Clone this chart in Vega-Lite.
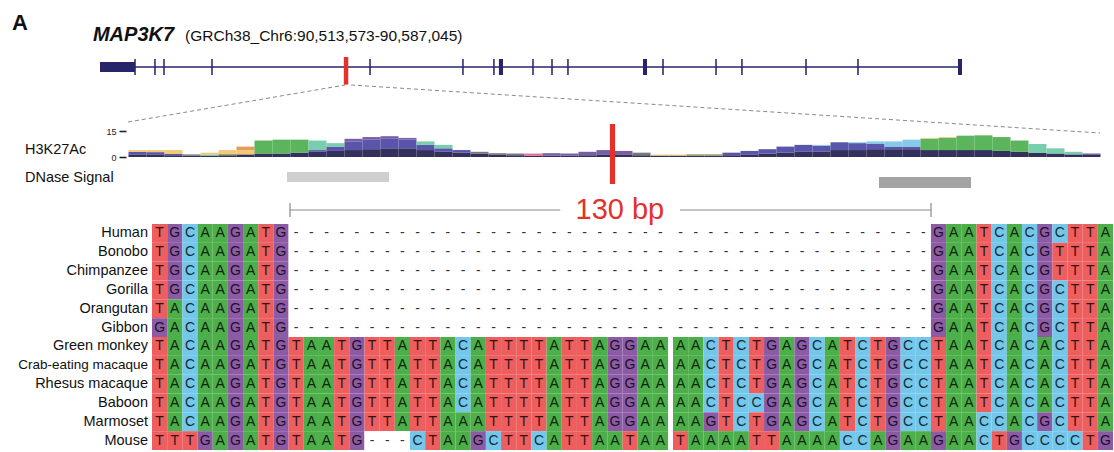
{
"$schema":"https://vega.github.io/schema/vega-lite/v6.json",
"width":1114,"height":452,"padding":0,"autosize":{"type":"none"},"background":"white",
"config":{"view":{"stroke":null},"font":"Liberation Sans","text":{"font":"Liberation Sans"}},
"datasets":{
"exons":[{"start":2.92,"end":3.05},{"start":4.62,"end":4.75},{"start":5.39,"end":5.52},{"start":9.48,"end":9.61},{"start":22.95,"end":23.08},{"start":30.87,"end":31.0},{"start":33.51,"end":33.64},{"start":34.0,"end":34.35},{"start":36.84,"end":36.97},{"start":38.46,"end":38.59},{"start":39.82,"end":39.95},{"start":46.28,"end":46.62},{"start":47.92,"end":48.05},{"start":52.44,"end":52.57},{"start":54.65,"end":54.78},{"start":60.11,"end":60.24},{"start":64.54,"end":64.67},{"start":73.13,"end":73.47}],
"h3k":[
{"start":0,"end":450,"c":"L01","v":1.5},{"start":0,"end":450,"c":"L02","v":1.5},{"start":0,"end":450,"c":"L10","v":1},
{"start":450,"end":900,"c":"L01","v":1.5},{"start":450,"end":900,"c":"L02","v":1.3},{"start":450,"end":900,"c":"L10","v":1.2},
{"start":900,"end":1350,"c":"L01","v":1},{"start":900,"end":1350,"c":"L02","v":0.8},{"start":900,"end":1350,"c":"L10","v":2.2},
{"start":1350,"end":1800,"c":"L01","v":0.8},{"start":1350,"end":1800,"c":"L04","v":0.7},
{"start":1800,"end":2250,"c":"L01","v":0.8},{"start":1800,"end":2250,"c":"L08","v":0.7},{"start":1800,"end":2250,"c":"L10","v":1},
{"start":2250,"end":2700,"c":"L01","v":1},{"start":2250,"end":2700,"c":"L06","v":1},{"start":2250,"end":2700,"c":"L10","v":2},
{"start":2700,"end":3150,"c":"L01","v":1.5},{"start":2700,"end":3150,"c":"L10","v":2.5},{"start":2700,"end":3150,"c":"L11","v":2},
{"start":3150,"end":3600,"c":"L01","v":2},{"start":3150,"end":3600,"c":"L09","v":7.5},
{"start":3600,"end":4050,"c":"L01","v":2},{"start":3600,"end":4050,"c":"L09","v":8},
{"start":4050,"end":4500,"c":"L01","v":2.5},{"start":4050,"end":4500,"c":"L09","v":7.5},
{"start":4500,"end":4950,"c":"L01","v":3},{"start":4500,"end":4950,"c":"L02","v":1},{"start":4500,"end":4950,"c":"L08","v":5.5},
{"start":4950,"end":5400,"c":"L01","v":3.5},{"start":4950,"end":5400,"c":"L02","v":2.5},{"start":4950,"end":5400,"c":"L08","v":2},
{"start":5400,"end":5850,"c":"L01","v":4},{"start":5400,"end":5850,"c":"L02","v":5},{"start":5400,"end":5850,"c":"L03","v":1.5},
{"start":5850,"end":6300,"c":"L01","v":4.5},{"start":5850,"end":6300,"c":"L02","v":5.5},{"start":5850,"end":6300,"c":"L03","v":1.5},
{"start":6300,"end":6750,"c":"L01","v":5},{"start":6300,"end":6750,"c":"L02","v":5.5},{"start":6300,"end":6750,"c":"L03","v":1.5},
{"start":6750,"end":7200,"c":"L01","v":5},{"start":6750,"end":7200,"c":"L02","v":5},{"start":6750,"end":7200,"c":"L03","v":1},
{"start":7200,"end":7650,"c":"L01","v":4},{"start":7200,"end":7650,"c":"L02","v":3},{"start":7200,"end":7650,"c":"L08","v":2},
{"start":7650,"end":8100,"c":"L01","v":3},{"start":7650,"end":8100,"c":"L02","v":2},{"start":7650,"end":8100,"c":"L08","v":2},
{"start":8100,"end":8550,"c":"L01","v":2.5},{"start":8100,"end":8550,"c":"L02","v":1.5},
{"start":8550,"end":9000,"c":"L01","v":2},{"start":8550,"end":9000,"c":"L04","v":1},
{"start":9000,"end":9450,"c":"L01","v":1.2},{"start":9000,"end":9450,"c":"L04","v":1},
{"start":9450,"end":9900,"c":"L01","v":1},{"start":9450,"end":9900,"c":"L04","v":1},
{"start":9900,"end":10350,"c":"L01","v":0.8},{"start":9900,"end":10350,"c":"L05","v":1.2},
{"start":10350,"end":10800,"c":"L01","v":0.8},{"start":10350,"end":10800,"c":"L03","v":1.4},
{"start":10800,"end":11250,"c":"L01","v":0.8},{"start":10800,"end":11250,"c":"L03","v":1.2},
{"start":11250,"end":11700,"c":"L01","v":1},{"start":11250,"end":11700,"c":"L03","v":2},
{"start":11700,"end":12150,"c":"L01","v":1.5},{"start":11700,"end":12150,"c":"L03","v":2.5},
{"start":12150,"end":12600,"c":"L01","v":1.5},{"start":12150,"end":12600,"c":"L03","v":2},
{"start":12600,"end":13050,"c":"L01","v":1},{"start":12600,"end":13050,"c":"L04","v":1.5},
{"start":13050,"end":13500,"c":"L01","v":0.8},{"start":13050,"end":13500,"c":"L10","v":0.6},
{"start":13500,"end":13950,"c":"L01","v":0.8},{"start":13500,"end":13950,"c":"L10","v":0.6},
{"start":13950,"end":14400,"c":"L01","v":0.8},{"start":13950,"end":14400,"c":"L06","v":0.8},
{"start":14400,"end":14850,"c":"L01","v":0.8},{"start":14400,"end":14850,"c":"L06","v":0.8},
{"start":14850,"end":15300,"c":"L01","v":1},{"start":14850,"end":15300,"c":"L02","v":1.5},
{"start":15300,"end":15750,"c":"L01","v":1.5},{"start":15300,"end":15750,"c":"L02","v":2},
{"start":15750,"end":16200,"c":"L01","v":2},{"start":15750,"end":16200,"c":"L02","v":2.5},
{"start":16200,"end":16650,"c":"L01","v":2.5},{"start":16200,"end":16650,"c":"L02","v":3.5},
{"start":16650,"end":17100,"c":"L01","v":3},{"start":16650,"end":17100,"c":"L02","v":4},
{"start":17100,"end":17550,"c":"L01","v":3},{"start":17100,"end":17550,"c":"L02","v":3.5},{"start":17100,"end":17550,"c":"L07","v":0.5},
{"start":17550,"end":18000,"c":"L01","v":4},{"start":17550,"end":18000,"c":"L02","v":4.5},
{"start":18000,"end":18450,"c":"L01","v":4},{"start":18000,"end":18450,"c":"L02","v":4},{"start":18000,"end":18450,"c":"L07","v":0.5},
{"start":18450,"end":18900,"c":"L01","v":4.5},{"start":18450,"end":18900,"c":"L02","v":3},{"start":18450,"end":18900,"c":"L07","v":1.5},
{"start":18900,"end":19350,"c":"L01","v":4.5},{"start":18900,"end":19350,"c":"L02","v":1.5},{"start":18900,"end":19350,"c":"L07","v":3},
{"start":19350,"end":19800,"c":"L01","v":4.5},{"start":19350,"end":19800,"c":"L02","v":1.5},{"start":19350,"end":19800,"c":"L07","v":4},
{"start":19800,"end":20250,"c":"L01","v":4},{"start":19800,"end":20250,"c":"L09","v":6.5},{"start":19800,"end":20250,"c":"L10","v":0.5},
{"start":20250,"end":20700,"c":"L01","v":4},{"start":20250,"end":20700,"c":"L09","v":7},{"start":20250,"end":20700,"c":"L10","v":0.5},
{"start":20700,"end":21150,"c":"L01","v":4},{"start":20700,"end":21150,"c":"L09","v":8.3},
{"start":21150,"end":21600,"c":"L01","v":4},{"start":21150,"end":21600,"c":"L09","v":8.5},
{"start":21600,"end":22050,"c":"L01","v":3.5},{"start":21600,"end":22050,"c":"L09","v":8},
{"start":22050,"end":22500,"c":"L01","v":3},{"start":22050,"end":22500,"c":"L09","v":6.5},
{"start":22500,"end":22950,"c":"L01","v":2.5},{"start":22500,"end":22950,"c":"L08","v":5},
{"start":22950,"end":23400,"c":"L01","v":2},{"start":22950,"end":23400,"c":"L08","v":3},
{"start":23400,"end":23850,"c":"L01","v":1.5},{"start":23400,"end":23850,"c":"L08","v":1.5},
{"start":23850,"end":24300,"c":"L01","v":1.5},{"start":23850,"end":24300,"c":"L02","v":0.5}
],
"aln":[
{"s":"Human","i":0,"b":"T"},{"s":"Human","i":1,"b":"G"},{"s":"Human","i":2,"b":"C"},{"s":"Human","i":3,"b":"A"},{"s":"Human","i":4,"b":"A"},{"s":"Human","i":5,"b":"G"},{"s":"Human","i":6,"b":"A"},{"s":"Human","i":7,"b":"T"},{"s":"Human","i":8,"b":"G"},
{"s":"Human","i":9,"b":"-"},{"s":"Human","i":10,"b":"-"},{"s":"Human","i":11,"b":"-"},{"s":"Human","i":12,"b":"-"},{"s":"Human","i":13,"b":"-"},{"s":"Human","i":14,"b":"-"},{"s":"Human","i":15,"b":"-"},{"s":"Human","i":16,"b":"-"},{"s":"Human","i":17,"b":"-"},{"s":"Human","i":18,"b":"-"},{"s":"Human","i":19,"b":"-"},{"s":"Human","i":20,"b":"-"},{"s":"Human","i":21,"b":"-"},{"s":"Human","i":22,"b":"-"},{"s":"Human","i":23,"b":"-"},{"s":"Human","i":24,"b":"-"},{"s":"Human","i":25,"b":"-"},{"s":"Human","i":26,"b":"-"},{"s":"Human","i":27,"b":"-"},{"s":"Human","i":28,"b":"-"},{"s":"Human","i":29,"b":"-"},{"s":"Human","i":30,"b":"-"},{"s":"Human","i":31,"b":"-"},{"s":"Human","i":32,"b":"-"},{"s":"Human","i":33,"b":"-"},{"s":"Human","i":34,"b":"-"},{"s":"Human","i":35,"b":"-"},{"s":"Human","i":36,"b":"-"},{"s":"Human","i":37,"b":"-"},{"s":"Human","i":38,"b":"-"},{"s":"Human","i":39,"b":"-"},{"s":"Human","i":40,"b":"-"},{"s":"Human","i":41,"b":"-"},{"s":"Human","i":42,"b":"-"},{"s":"Human","i":43,"b":"-"},{"s":"Human","i":44,"b":"-"},{"s":"Human","i":45,"b":"-"},{"s":"Human","i":46,"b":"-"},{"s":"Human","i":47,"b":"-"},{"s":"Human","i":48,"b":"-"},{"s":"Human","i":49,"b":"-"},{"s":"Human","i":50,"b":"-"},
{"s":"Human","i":51,"b":"G"},{"s":"Human","i":52,"b":"A"},{"s":"Human","i":53,"b":"A"},{"s":"Human","i":54,"b":"T"},{"s":"Human","i":55,"b":"C"},{"s":"Human","i":56,"b":"A"},{"s":"Human","i":57,"b":"C"},{"s":"Human","i":58,"b":"G"},{"s":"Human","i":59,"b":"C"},{"s":"Human","i":60,"b":"T"},{"s":"Human","i":61,"b":"T"},{"s":"Human","i":62,"b":"A"},
{"s":"Bonobo","i":0,"b":"T"},{"s":"Bonobo","i":1,"b":"G"},{"s":"Bonobo","i":2,"b":"C"},{"s":"Bonobo","i":3,"b":"A"},{"s":"Bonobo","i":4,"b":"A"},{"s":"Bonobo","i":5,"b":"G"},{"s":"Bonobo","i":6,"b":"A"},{"s":"Bonobo","i":7,"b":"T"},{"s":"Bonobo","i":8,"b":"G"},
{"s":"Bonobo","i":9,"b":"-"},{"s":"Bonobo","i":10,"b":"-"},{"s":"Bonobo","i":11,"b":"-"},{"s":"Bonobo","i":12,"b":"-"},{"s":"Bonobo","i":13,"b":"-"},{"s":"Bonobo","i":14,"b":"-"},{"s":"Bonobo","i":15,"b":"-"},{"s":"Bonobo","i":16,"b":"-"},{"s":"Bonobo","i":17,"b":"-"},{"s":"Bonobo","i":18,"b":"-"},{"s":"Bonobo","i":19,"b":"-"},{"s":"Bonobo","i":20,"b":"-"},{"s":"Bonobo","i":21,"b":"-"},{"s":"Bonobo","i":22,"b":"-"},{"s":"Bonobo","i":23,"b":"-"},{"s":"Bonobo","i":24,"b":"-"},{"s":"Bonobo","i":25,"b":"-"},{"s":"Bonobo","i":26,"b":"-"},{"s":"Bonobo","i":27,"b":"-"},{"s":"Bonobo","i":28,"b":"-"},{"s":"Bonobo","i":29,"b":"-"},{"s":"Bonobo","i":30,"b":"-"},{"s":"Bonobo","i":31,"b":"-"},{"s":"Bonobo","i":32,"b":"-"},{"s":"Bonobo","i":33,"b":"-"},{"s":"Bonobo","i":34,"b":"-"},{"s":"Bonobo","i":35,"b":"-"},{"s":"Bonobo","i":36,"b":"-"},{"s":"Bonobo","i":37,"b":"-"},{"s":"Bonobo","i":38,"b":"-"},{"s":"Bonobo","i":39,"b":"-"},{"s":"Bonobo","i":40,"b":"-"},{"s":"Bonobo","i":41,"b":"-"},{"s":"Bonobo","i":42,"b":"-"},{"s":"Bonobo","i":43,"b":"-"},{"s":"Bonobo","i":44,"b":"-"},{"s":"Bonobo","i":45,"b":"-"},{"s":"Bonobo","i":46,"b":"-"},{"s":"Bonobo","i":47,"b":"-"},{"s":"Bonobo","i":48,"b":"-"},{"s":"Bonobo","i":49,"b":"-"},{"s":"Bonobo","i":50,"b":"-"},
{"s":"Bonobo","i":51,"b":"G"},{"s":"Bonobo","i":52,"b":"A"},{"s":"Bonobo","i":53,"b":"A"},{"s":"Bonobo","i":54,"b":"T"},{"s":"Bonobo","i":55,"b":"C"},{"s":"Bonobo","i":56,"b":"A"},{"s":"Bonobo","i":57,"b":"C"},{"s":"Bonobo","i":58,"b":"G"},{"s":"Bonobo","i":59,"b":"T"},{"s":"Bonobo","i":60,"b":"T"},{"s":"Bonobo","i":61,"b":"T"},{"s":"Bonobo","i":62,"b":"A"},
{"s":"Chimpanzee","i":0,"b":"T"},{"s":"Chimpanzee","i":1,"b":"G"},{"s":"Chimpanzee","i":2,"b":"C"},{"s":"Chimpanzee","i":3,"b":"A"},{"s":"Chimpanzee","i":4,"b":"A"},{"s":"Chimpanzee","i":5,"b":"G"},{"s":"Chimpanzee","i":6,"b":"A"},{"s":"Chimpanzee","i":7,"b":"T"},{"s":"Chimpanzee","i":8,"b":"G"},
{"s":"Chimpanzee","i":9,"b":"-"},{"s":"Chimpanzee","i":10,"b":"-"},{"s":"Chimpanzee","i":11,"b":"-"},{"s":"Chimpanzee","i":12,"b":"-"},{"s":"Chimpanzee","i":13,"b":"-"},{"s":"Chimpanzee","i":14,"b":"-"},{"s":"Chimpanzee","i":15,"b":"-"},{"s":"Chimpanzee","i":16,"b":"-"},{"s":"Chimpanzee","i":17,"b":"-"},{"s":"Chimpanzee","i":18,"b":"-"},{"s":"Chimpanzee","i":19,"b":"-"},{"s":"Chimpanzee","i":20,"b":"-"},{"s":"Chimpanzee","i":21,"b":"-"},{"s":"Chimpanzee","i":22,"b":"-"},{"s":"Chimpanzee","i":23,"b":"-"},{"s":"Chimpanzee","i":24,"b":"-"},{"s":"Chimpanzee","i":25,"b":"-"},{"s":"Chimpanzee","i":26,"b":"-"},{"s":"Chimpanzee","i":27,"b":"-"},{"s":"Chimpanzee","i":28,"b":"-"},{"s":"Chimpanzee","i":29,"b":"-"},{"s":"Chimpanzee","i":30,"b":"-"},{"s":"Chimpanzee","i":31,"b":"-"},{"s":"Chimpanzee","i":32,"b":"-"},{"s":"Chimpanzee","i":33,"b":"-"},{"s":"Chimpanzee","i":34,"b":"-"},{"s":"Chimpanzee","i":35,"b":"-"},{"s":"Chimpanzee","i":36,"b":"-"},{"s":"Chimpanzee","i":37,"b":"-"},{"s":"Chimpanzee","i":38,"b":"-"},{"s":"Chimpanzee","i":39,"b":"-"},{"s":"Chimpanzee","i":40,"b":"-"},{"s":"Chimpanzee","i":41,"b":"-"},{"s":"Chimpanzee","i":42,"b":"-"},{"s":"Chimpanzee","i":43,"b":"-"},{"s":"Chimpanzee","i":44,"b":"-"},{"s":"Chimpanzee","i":45,"b":"-"},{"s":"Chimpanzee","i":46,"b":"-"},{"s":"Chimpanzee","i":47,"b":"-"},{"s":"Chimpanzee","i":48,"b":"-"},{"s":"Chimpanzee","i":49,"b":"-"},{"s":"Chimpanzee","i":50,"b":"-"},
{"s":"Chimpanzee","i":51,"b":"G"},{"s":"Chimpanzee","i":52,"b":"A"},{"s":"Chimpanzee","i":53,"b":"A"},{"s":"Chimpanzee","i":54,"b":"T"},{"s":"Chimpanzee","i":55,"b":"C"},{"s":"Chimpanzee","i":56,"b":"A"},{"s":"Chimpanzee","i":57,"b":"C"},{"s":"Chimpanzee","i":58,"b":"G"},{"s":"Chimpanzee","i":59,"b":"T"},{"s":"Chimpanzee","i":60,"b":"T"},{"s":"Chimpanzee","i":61,"b":"T"},{"s":"Chimpanzee","i":62,"b":"A"},
{"s":"Gorilla","i":0,"b":"T"},{"s":"Gorilla","i":1,"b":"G"},{"s":"Gorilla","i":2,"b":"C"},{"s":"Gorilla","i":3,"b":"A"},{"s":"Gorilla","i":4,"b":"A"},{"s":"Gorilla","i":5,"b":"G"},{"s":"Gorilla","i":6,"b":"A"},{"s":"Gorilla","i":7,"b":"T"},{"s":"Gorilla","i":8,"b":"G"},
{"s":"Gorilla","i":9,"b":"-"},{"s":"Gorilla","i":10,"b":"-"},{"s":"Gorilla","i":11,"b":"-"},{"s":"Gorilla","i":12,"b":"-"},{"s":"Gorilla","i":13,"b":"-"},{"s":"Gorilla","i":14,"b":"-"},{"s":"Gorilla","i":15,"b":"-"},{"s":"Gorilla","i":16,"b":"-"},{"s":"Gorilla","i":17,"b":"-"},{"s":"Gorilla","i":18,"b":"-"},{"s":"Gorilla","i":19,"b":"-"},{"s":"Gorilla","i":20,"b":"-"},{"s":"Gorilla","i":21,"b":"-"},{"s":"Gorilla","i":22,"b":"-"},{"s":"Gorilla","i":23,"b":"-"},{"s":"Gorilla","i":24,"b":"-"},{"s":"Gorilla","i":25,"b":"-"},{"s":"Gorilla","i":26,"b":"-"},{"s":"Gorilla","i":27,"b":"-"},{"s":"Gorilla","i":28,"b":"-"},{"s":"Gorilla","i":29,"b":"-"},{"s":"Gorilla","i":30,"b":"-"},{"s":"Gorilla","i":31,"b":"-"},{"s":"Gorilla","i":32,"b":"-"},{"s":"Gorilla","i":33,"b":"-"},{"s":"Gorilla","i":34,"b":"-"},{"s":"Gorilla","i":35,"b":"-"},{"s":"Gorilla","i":36,"b":"-"},{"s":"Gorilla","i":37,"b":"-"},{"s":"Gorilla","i":38,"b":"-"},{"s":"Gorilla","i":39,"b":"-"},{"s":"Gorilla","i":40,"b":"-"},{"s":"Gorilla","i":41,"b":"-"},{"s":"Gorilla","i":42,"b":"-"},{"s":"Gorilla","i":43,"b":"-"},{"s":"Gorilla","i":44,"b":"-"},{"s":"Gorilla","i":45,"b":"-"},{"s":"Gorilla","i":46,"b":"-"},{"s":"Gorilla","i":47,"b":"-"},{"s":"Gorilla","i":48,"b":"-"},{"s":"Gorilla","i":49,"b":"-"},{"s":"Gorilla","i":50,"b":"-"},
{"s":"Gorilla","i":51,"b":"G"},{"s":"Gorilla","i":52,"b":"A"},{"s":"Gorilla","i":53,"b":"A"},{"s":"Gorilla","i":54,"b":"T"},{"s":"Gorilla","i":55,"b":"C"},{"s":"Gorilla","i":56,"b":"A"},{"s":"Gorilla","i":57,"b":"C"},{"s":"Gorilla","i":58,"b":"G"},{"s":"Gorilla","i":59,"b":"C"},{"s":"Gorilla","i":60,"b":"T"},{"s":"Gorilla","i":61,"b":"T"},{"s":"Gorilla","i":62,"b":"A"},
{"s":"Orangutan","i":0,"b":"T"},{"s":"Orangutan","i":1,"b":"A"},{"s":"Orangutan","i":2,"b":"C"},{"s":"Orangutan","i":3,"b":"A"},{"s":"Orangutan","i":4,"b":"A"},{"s":"Orangutan","i":5,"b":"G"},{"s":"Orangutan","i":6,"b":"A"},{"s":"Orangutan","i":7,"b":"T"},{"s":"Orangutan","i":8,"b":"G"},
{"s":"Orangutan","i":9,"b":"-"},{"s":"Orangutan","i":10,"b":"-"},{"s":"Orangutan","i":11,"b":"-"},{"s":"Orangutan","i":12,"b":"-"},{"s":"Orangutan","i":13,"b":"-"},{"s":"Orangutan","i":14,"b":"-"},{"s":"Orangutan","i":15,"b":"-"},{"s":"Orangutan","i":16,"b":"-"},{"s":"Orangutan","i":17,"b":"-"},{"s":"Orangutan","i":18,"b":"-"},{"s":"Orangutan","i":19,"b":"-"},{"s":"Orangutan","i":20,"b":"-"},{"s":"Orangutan","i":21,"b":"-"},{"s":"Orangutan","i":22,"b":"-"},{"s":"Orangutan","i":23,"b":"-"},{"s":"Orangutan","i":24,"b":"-"},{"s":"Orangutan","i":25,"b":"-"},{"s":"Orangutan","i":26,"b":"-"},{"s":"Orangutan","i":27,"b":"-"},{"s":"Orangutan","i":28,"b":"-"},{"s":"Orangutan","i":29,"b":"-"},{"s":"Orangutan","i":30,"b":"-"},{"s":"Orangutan","i":31,"b":"-"},{"s":"Orangutan","i":32,"b":"-"},{"s":"Orangutan","i":33,"b":"-"},{"s":"Orangutan","i":34,"b":"-"},{"s":"Orangutan","i":35,"b":"-"},{"s":"Orangutan","i":36,"b":"-"},{"s":"Orangutan","i":37,"b":"-"},{"s":"Orangutan","i":38,"b":"-"},{"s":"Orangutan","i":39,"b":"-"},{"s":"Orangutan","i":40,"b":"-"},{"s":"Orangutan","i":41,"b":"-"},{"s":"Orangutan","i":42,"b":"-"},{"s":"Orangutan","i":43,"b":"-"},{"s":"Orangutan","i":44,"b":"-"},{"s":"Orangutan","i":45,"b":"-"},{"s":"Orangutan","i":46,"b":"-"},{"s":"Orangutan","i":47,"b":"-"},{"s":"Orangutan","i":48,"b":"-"},{"s":"Orangutan","i":49,"b":"-"},{"s":"Orangutan","i":50,"b":"-"},
{"s":"Orangutan","i":51,"b":"G"},{"s":"Orangutan","i":52,"b":"A"},{"s":"Orangutan","i":53,"b":"A"},{"s":"Orangutan","i":54,"b":"T"},{"s":"Orangutan","i":55,"b":"C"},{"s":"Orangutan","i":56,"b":"A"},{"s":"Orangutan","i":57,"b":"C"},{"s":"Orangutan","i":58,"b":"G"},{"s":"Orangutan","i":59,"b":"C"},{"s":"Orangutan","i":60,"b":"T"},{"s":"Orangutan","i":61,"b":"T"},{"s":"Orangutan","i":62,"b":"A"},
{"s":"Gibbon","i":0,"b":"G"},{"s":"Gibbon","i":1,"b":"A"},{"s":"Gibbon","i":2,"b":"C"},{"s":"Gibbon","i":3,"b":"A"},{"s":"Gibbon","i":4,"b":"A"},{"s":"Gibbon","i":5,"b":"G"},{"s":"Gibbon","i":6,"b":"A"},{"s":"Gibbon","i":7,"b":"T"},{"s":"Gibbon","i":8,"b":"G"},
{"s":"Gibbon","i":9,"b":"-"},{"s":"Gibbon","i":10,"b":"-"},{"s":"Gibbon","i":11,"b":"-"},{"s":"Gibbon","i":12,"b":"-"},{"s":"Gibbon","i":13,"b":"-"},{"s":"Gibbon","i":14,"b":"-"},{"s":"Gibbon","i":15,"b":"-"},{"s":"Gibbon","i":16,"b":"-"},{"s":"Gibbon","i":17,"b":"-"},{"s":"Gibbon","i":18,"b":"-"},{"s":"Gibbon","i":19,"b":"-"},{"s":"Gibbon","i":20,"b":"-"},{"s":"Gibbon","i":21,"b":"-"},{"s":"Gibbon","i":22,"b":"-"},{"s":"Gibbon","i":23,"b":"-"},{"s":"Gibbon","i":24,"b":"-"},{"s":"Gibbon","i":25,"b":"-"},{"s":"Gibbon","i":26,"b":"-"},{"s":"Gibbon","i":27,"b":"-"},{"s":"Gibbon","i":28,"b":"-"},{"s":"Gibbon","i":29,"b":"-"},{"s":"Gibbon","i":30,"b":"-"},{"s":"Gibbon","i":31,"b":"-"},{"s":"Gibbon","i":32,"b":"-"},{"s":"Gibbon","i":33,"b":"-"},{"s":"Gibbon","i":34,"b":"-"},{"s":"Gibbon","i":35,"b":"-"},{"s":"Gibbon","i":36,"b":"-"},{"s":"Gibbon","i":37,"b":"-"},{"s":"Gibbon","i":38,"b":"-"},{"s":"Gibbon","i":39,"b":"-"},{"s":"Gibbon","i":40,"b":"-"},{"s":"Gibbon","i":41,"b":"-"},{"s":"Gibbon","i":42,"b":"-"},{"s":"Gibbon","i":43,"b":"-"},{"s":"Gibbon","i":44,"b":"-"},{"s":"Gibbon","i":45,"b":"-"},{"s":"Gibbon","i":46,"b":"-"},{"s":"Gibbon","i":47,"b":"-"},{"s":"Gibbon","i":48,"b":"-"},{"s":"Gibbon","i":49,"b":"-"},{"s":"Gibbon","i":50,"b":"-"},
{"s":"Gibbon","i":51,"b":"G"},{"s":"Gibbon","i":52,"b":"A"},{"s":"Gibbon","i":53,"b":"A"},{"s":"Gibbon","i":54,"b":"T"},{"s":"Gibbon","i":55,"b":"C"},{"s":"Gibbon","i":56,"b":"A"},{"s":"Gibbon","i":57,"b":"C"},{"s":"Gibbon","i":58,"b":"G"},{"s":"Gibbon","i":59,"b":"C"},{"s":"Gibbon","i":60,"b":"T"},{"s":"Gibbon","i":61,"b":"T"},{"s":"Gibbon","i":62,"b":"A"},
{"s":"Green monkey","i":0,"b":"T"},{"s":"Green monkey","i":1,"b":"A"},{"s":"Green monkey","i":2,"b":"C"},{"s":"Green monkey","i":3,"b":"A"},{"s":"Green monkey","i":4,"b":"A"},{"s":"Green monkey","i":5,"b":"G"},{"s":"Green monkey","i":6,"b":"A"},{"s":"Green monkey","i":7,"b":"T"},{"s":"Green monkey","i":8,"b":"G"},
{"s":"Green monkey","i":9,"b":"T"},{"s":"Green monkey","i":10,"b":"A"},{"s":"Green monkey","i":11,"b":"A"},{"s":"Green monkey","i":12,"b":"T"},{"s":"Green monkey","i":13,"b":"G"},{"s":"Green monkey","i":14,"b":"T"},{"s":"Green monkey","i":15,"b":"T"},{"s":"Green monkey","i":16,"b":"A"},{"s":"Green monkey","i":17,"b":"T"},{"s":"Green monkey","i":18,"b":"T"},{"s":"Green monkey","i":19,"b":"A"},{"s":"Green monkey","i":20,"b":"C"},{"s":"Green monkey","i":21,"b":"A"},{"s":"Green monkey","i":22,"b":"T"},{"s":"Green monkey","i":23,"b":"T"},{"s":"Green monkey","i":24,"b":"T"},{"s":"Green monkey","i":25,"b":"T"},{"s":"Green monkey","i":26,"b":"A"},{"s":"Green monkey","i":27,"b":"T"},{"s":"Green monkey","i":28,"b":"T"},{"s":"Green monkey","i":29,"b":"A"},{"s":"Green monkey","i":30,"b":"G"},{"s":"Green monkey","i":31,"b":"G"},{"s":"Green monkey","i":32,"b":"A"},{"s":"Green monkey","i":33,"b":"A"},
{"s":"Green monkey","i":34,"b":"A"},{"s":"Green monkey","i":35,"b":"A"},{"s":"Green monkey","i":36,"b":"C"},{"s":"Green monkey","i":37,"b":"T"},{"s":"Green monkey","i":38,"b":"C"},{"s":"Green monkey","i":39,"b":"T"},{"s":"Green monkey","i":40,"b":"G"},{"s":"Green monkey","i":41,"b":"A"},{"s":"Green monkey","i":42,"b":"G"},{"s":"Green monkey","i":43,"b":"C"},{"s":"Green monkey","i":44,"b":"A"},{"s":"Green monkey","i":45,"b":"T"},{"s":"Green monkey","i":46,"b":"C"},{"s":"Green monkey","i":47,"b":"T"},{"s":"Green monkey","i":48,"b":"G"},{"s":"Green monkey","i":49,"b":"C"},{"s":"Green monkey","i":50,"b":"C"},
{"s":"Green monkey","i":51,"b":"T"},{"s":"Green monkey","i":52,"b":"A"},{"s":"Green monkey","i":53,"b":"A"},{"s":"Green monkey","i":54,"b":"T"},{"s":"Green monkey","i":55,"b":"C"},{"s":"Green monkey","i":56,"b":"A"},{"s":"Green monkey","i":57,"b":"C"},{"s":"Green monkey","i":58,"b":"A"},{"s":"Green monkey","i":59,"b":"C"},{"s":"Green monkey","i":60,"b":"T"},{"s":"Green monkey","i":61,"b":"T"},{"s":"Green monkey","i":62,"b":"A"},
{"s":"Crab-eating macaque","i":0,"b":"T"},{"s":"Crab-eating macaque","i":1,"b":"A"},{"s":"Crab-eating macaque","i":2,"b":"C"},{"s":"Crab-eating macaque","i":3,"b":"A"},{"s":"Crab-eating macaque","i":4,"b":"A"},{"s":"Crab-eating macaque","i":5,"b":"G"},{"s":"Crab-eating macaque","i":6,"b":"A"},{"s":"Crab-eating macaque","i":7,"b":"T"},{"s":"Crab-eating macaque","i":8,"b":"G"},
{"s":"Crab-eating macaque","i":9,"b":"T"},{"s":"Crab-eating macaque","i":10,"b":"A"},{"s":"Crab-eating macaque","i":11,"b":"A"},{"s":"Crab-eating macaque","i":12,"b":"T"},{"s":"Crab-eating macaque","i":13,"b":"G"},{"s":"Crab-eating macaque","i":14,"b":"T"},{"s":"Crab-eating macaque","i":15,"b":"T"},{"s":"Crab-eating macaque","i":16,"b":"A"},{"s":"Crab-eating macaque","i":17,"b":"T"},{"s":"Crab-eating macaque","i":18,"b":"T"},{"s":"Crab-eating macaque","i":19,"b":"A"},{"s":"Crab-eating macaque","i":20,"b":"C"},{"s":"Crab-eating macaque","i":21,"b":"A"},{"s":"Crab-eating macaque","i":22,"b":"T"},{"s":"Crab-eating macaque","i":23,"b":"T"},{"s":"Crab-eating macaque","i":24,"b":"T"},{"s":"Crab-eating macaque","i":25,"b":"T"},{"s":"Crab-eating macaque","i":26,"b":"A"},{"s":"Crab-eating macaque","i":27,"b":"T"},{"s":"Crab-eating macaque","i":28,"b":"T"},{"s":"Crab-eating macaque","i":29,"b":"A"},{"s":"Crab-eating macaque","i":30,"b":"G"},{"s":"Crab-eating macaque","i":31,"b":"G"},{"s":"Crab-eating macaque","i":32,"b":"A"},{"s":"Crab-eating macaque","i":33,"b":"A"},
{"s":"Crab-eating macaque","i":34,"b":"A"},{"s":"Crab-eating macaque","i":35,"b":"A"},{"s":"Crab-eating macaque","i":36,"b":"C"},{"s":"Crab-eating macaque","i":37,"b":"T"},{"s":"Crab-eating macaque","i":38,"b":"C"},{"s":"Crab-eating macaque","i":39,"b":"T"},{"s":"Crab-eating macaque","i":40,"b":"G"},{"s":"Crab-eating macaque","i":41,"b":"A"},{"s":"Crab-eating macaque","i":42,"b":"G"},{"s":"Crab-eating macaque","i":43,"b":"C"},{"s":"Crab-eating macaque","i":44,"b":"A"},{"s":"Crab-eating macaque","i":45,"b":"T"},{"s":"Crab-eating macaque","i":46,"b":"C"},{"s":"Crab-eating macaque","i":47,"b":"T"},{"s":"Crab-eating macaque","i":48,"b":"G"},{"s":"Crab-eating macaque","i":49,"b":"C"},{"s":"Crab-eating macaque","i":50,"b":"C"},
{"s":"Crab-eating macaque","i":51,"b":"T"},{"s":"Crab-eating macaque","i":52,"b":"A"},{"s":"Crab-eating macaque","i":53,"b":"A"},{"s":"Crab-eating macaque","i":54,"b":"T"},{"s":"Crab-eating macaque","i":55,"b":"C"},{"s":"Crab-eating macaque","i":56,"b":"A"},{"s":"Crab-eating macaque","i":57,"b":"C"},{"s":"Crab-eating macaque","i":58,"b":"A"},{"s":"Crab-eating macaque","i":59,"b":"C"},{"s":"Crab-eating macaque","i":60,"b":"T"},{"s":"Crab-eating macaque","i":61,"b":"T"},{"s":"Crab-eating macaque","i":62,"b":"A"},
{"s":"Rhesus macaque","i":0,"b":"T"},{"s":"Rhesus macaque","i":1,"b":"A"},{"s":"Rhesus macaque","i":2,"b":"C"},{"s":"Rhesus macaque","i":3,"b":"A"},{"s":"Rhesus macaque","i":4,"b":"A"},{"s":"Rhesus macaque","i":5,"b":"G"},{"s":"Rhesus macaque","i":6,"b":"A"},{"s":"Rhesus macaque","i":7,"b":"T"},{"s":"Rhesus macaque","i":8,"b":"G"},
{"s":"Rhesus macaque","i":9,"b":"T"},{"s":"Rhesus macaque","i":10,"b":"A"},{"s":"Rhesus macaque","i":11,"b":"A"},{"s":"Rhesus macaque","i":12,"b":"T"},{"s":"Rhesus macaque","i":13,"b":"G"},{"s":"Rhesus macaque","i":14,"b":"T"},{"s":"Rhesus macaque","i":15,"b":"T"},{"s":"Rhesus macaque","i":16,"b":"A"},{"s":"Rhesus macaque","i":17,"b":"T"},{"s":"Rhesus macaque","i":18,"b":"T"},{"s":"Rhesus macaque","i":19,"b":"A"},{"s":"Rhesus macaque","i":20,"b":"C"},{"s":"Rhesus macaque","i":21,"b":"A"},{"s":"Rhesus macaque","i":22,"b":"T"},{"s":"Rhesus macaque","i":23,"b":"T"},{"s":"Rhesus macaque","i":24,"b":"T"},{"s":"Rhesus macaque","i":25,"b":"T"},{"s":"Rhesus macaque","i":26,"b":"A"},{"s":"Rhesus macaque","i":27,"b":"T"},{"s":"Rhesus macaque","i":28,"b":"T"},{"s":"Rhesus macaque","i":29,"b":"A"},{"s":"Rhesus macaque","i":30,"b":"G"},{"s":"Rhesus macaque","i":31,"b":"G"},{"s":"Rhesus macaque","i":32,"b":"A"},{"s":"Rhesus macaque","i":33,"b":"A"},
{"s":"Rhesus macaque","i":34,"b":"A"},{"s":"Rhesus macaque","i":35,"b":"A"},{"s":"Rhesus macaque","i":36,"b":"C"},{"s":"Rhesus macaque","i":37,"b":"T"},{"s":"Rhesus macaque","i":38,"b":"C"},{"s":"Rhesus macaque","i":39,"b":"T"},{"s":"Rhesus macaque","i":40,"b":"G"},{"s":"Rhesus macaque","i":41,"b":"A"},{"s":"Rhesus macaque","i":42,"b":"G"},{"s":"Rhesus macaque","i":43,"b":"C"},{"s":"Rhesus macaque","i":44,"b":"A"},{"s":"Rhesus macaque","i":45,"b":"T"},{"s":"Rhesus macaque","i":46,"b":"C"},{"s":"Rhesus macaque","i":47,"b":"T"},{"s":"Rhesus macaque","i":48,"b":"G"},{"s":"Rhesus macaque","i":49,"b":"C"},{"s":"Rhesus macaque","i":50,"b":"C"},
{"s":"Rhesus macaque","i":51,"b":"T"},{"s":"Rhesus macaque","i":52,"b":"A"},{"s":"Rhesus macaque","i":53,"b":"A"},{"s":"Rhesus macaque","i":54,"b":"T"},{"s":"Rhesus macaque","i":55,"b":"C"},{"s":"Rhesus macaque","i":56,"b":"A"},{"s":"Rhesus macaque","i":57,"b":"C"},{"s":"Rhesus macaque","i":58,"b":"A"},{"s":"Rhesus macaque","i":59,"b":"C"},{"s":"Rhesus macaque","i":60,"b":"T"},{"s":"Rhesus macaque","i":61,"b":"T"},{"s":"Rhesus macaque","i":62,"b":"A"},
{"s":"Baboon","i":0,"b":"T"},{"s":"Baboon","i":1,"b":"A"},{"s":"Baboon","i":2,"b":"C"},{"s":"Baboon","i":3,"b":"A"},{"s":"Baboon","i":4,"b":"A"},{"s":"Baboon","i":5,"b":"G"},{"s":"Baboon","i":6,"b":"A"},{"s":"Baboon","i":7,"b":"T"},{"s":"Baboon","i":8,"b":"G"},
{"s":"Baboon","i":9,"b":"T"},{"s":"Baboon","i":10,"b":"A"},{"s":"Baboon","i":11,"b":"A"},{"s":"Baboon","i":12,"b":"T"},{"s":"Baboon","i":13,"b":"G"},{"s":"Baboon","i":14,"b":"T"},{"s":"Baboon","i":15,"b":"T"},{"s":"Baboon","i":16,"b":"A"},{"s":"Baboon","i":17,"b":"T"},{"s":"Baboon","i":18,"b":"T"},{"s":"Baboon","i":19,"b":"A"},{"s":"Baboon","i":20,"b":"C"},{"s":"Baboon","i":21,"b":"A"},{"s":"Baboon","i":22,"b":"T"},{"s":"Baboon","i":23,"b":"T"},{"s":"Baboon","i":24,"b":"T"},{"s":"Baboon","i":25,"b":"T"},{"s":"Baboon","i":26,"b":"A"},{"s":"Baboon","i":27,"b":"T"},{"s":"Baboon","i":28,"b":"T"},{"s":"Baboon","i":29,"b":"A"},{"s":"Baboon","i":30,"b":"G"},{"s":"Baboon","i":31,"b":"G"},{"s":"Baboon","i":32,"b":"A"},{"s":"Baboon","i":33,"b":"A"},
{"s":"Baboon","i":34,"b":"A"},{"s":"Baboon","i":35,"b":"A"},{"s":"Baboon","i":36,"b":"C"},{"s":"Baboon","i":37,"b":"T"},{"s":"Baboon","i":38,"b":"C"},{"s":"Baboon","i":39,"b":"C"},{"s":"Baboon","i":40,"b":"G"},{"s":"Baboon","i":41,"b":"A"},{"s":"Baboon","i":42,"b":"G"},{"s":"Baboon","i":43,"b":"C"},{"s":"Baboon","i":44,"b":"A"},{"s":"Baboon","i":45,"b":"T"},{"s":"Baboon","i":46,"b":"C"},{"s":"Baboon","i":47,"b":"T"},{"s":"Baboon","i":48,"b":"G"},{"s":"Baboon","i":49,"b":"C"},{"s":"Baboon","i":50,"b":"C"},
{"s":"Baboon","i":51,"b":"T"},{"s":"Baboon","i":52,"b":"A"},{"s":"Baboon","i":53,"b":"A"},{"s":"Baboon","i":54,"b":"T"},{"s":"Baboon","i":55,"b":"C"},{"s":"Baboon","i":56,"b":"A"},{"s":"Baboon","i":57,"b":"C"},{"s":"Baboon","i":58,"b":"A"},{"s":"Baboon","i":59,"b":"C"},{"s":"Baboon","i":60,"b":"T"},{"s":"Baboon","i":61,"b":"T"},{"s":"Baboon","i":62,"b":"A"},
{"s":"Marmoset","i":0,"b":"T"},{"s":"Marmoset","i":1,"b":"A"},{"s":"Marmoset","i":2,"b":"C"},{"s":"Marmoset","i":3,"b":"A"},{"s":"Marmoset","i":4,"b":"A"},{"s":"Marmoset","i":5,"b":"G"},{"s":"Marmoset","i":6,"b":"A"},{"s":"Marmoset","i":7,"b":"T"},{"s":"Marmoset","i":8,"b":"G"},
{"s":"Marmoset","i":9,"b":"T"},{"s":"Marmoset","i":10,"b":"A"},{"s":"Marmoset","i":11,"b":"A"},{"s":"Marmoset","i":12,"b":"T"},{"s":"Marmoset","i":13,"b":"G"},{"s":"Marmoset","i":14,"b":"T"},{"s":"Marmoset","i":15,"b":"T"},{"s":"Marmoset","i":16,"b":"A"},{"s":"Marmoset","i":17,"b":"T"},{"s":"Marmoset","i":18,"b":"T"},{"s":"Marmoset","i":19,"b":"A"},{"s":"Marmoset","i":20,"b":"A"},{"s":"Marmoset","i":21,"b":"A"},{"s":"Marmoset","i":22,"b":"T"},{"s":"Marmoset","i":23,"b":"T"},{"s":"Marmoset","i":24,"b":"T"},{"s":"Marmoset","i":25,"b":"T"},{"s":"Marmoset","i":26,"b":"A"},{"s":"Marmoset","i":27,"b":"T"},{"s":"Marmoset","i":28,"b":"T"},{"s":"Marmoset","i":29,"b":"A"},{"s":"Marmoset","i":30,"b":"G"},{"s":"Marmoset","i":31,"b":"G"},{"s":"Marmoset","i":32,"b":"A"},{"s":"Marmoset","i":33,"b":"A"},
{"s":"Marmoset","i":34,"b":"A"},{"s":"Marmoset","i":35,"b":"A"},{"s":"Marmoset","i":36,"b":"G"},{"s":"Marmoset","i":37,"b":"T"},{"s":"Marmoset","i":38,"b":"C"},{"s":"Marmoset","i":39,"b":"T"},{"s":"Marmoset","i":40,"b":"G"},{"s":"Marmoset","i":41,"b":"A"},{"s":"Marmoset","i":42,"b":"G"},{"s":"Marmoset","i":43,"b":"C"},{"s":"Marmoset","i":44,"b":"A"},{"s":"Marmoset","i":45,"b":"T"},{"s":"Marmoset","i":46,"b":"C"},{"s":"Marmoset","i":47,"b":"T"},{"s":"Marmoset","i":48,"b":"G"},{"s":"Marmoset","i":49,"b":"C"},{"s":"Marmoset","i":50,"b":"C"},
{"s":"Marmoset","i":51,"b":"T"},{"s":"Marmoset","i":52,"b":"A"},{"s":"Marmoset","i":53,"b":"A"},{"s":"Marmoset","i":54,"b":"C"},{"s":"Marmoset","i":55,"b":"C"},{"s":"Marmoset","i":56,"b":"A"},{"s":"Marmoset","i":57,"b":"C"},{"s":"Marmoset","i":58,"b":"G"},{"s":"Marmoset","i":59,"b":"C"},{"s":"Marmoset","i":60,"b":"T"},{"s":"Marmoset","i":61,"b":"T"},{"s":"Marmoset","i":62,"b":"A"},
{"s":"Mouse","i":0,"b":"T"},{"s":"Mouse","i":1,"b":"T"},{"s":"Mouse","i":2,"b":"T"},{"s":"Mouse","i":3,"b":"G"},{"s":"Mouse","i":4,"b":"A"},{"s":"Mouse","i":5,"b":"G"},{"s":"Mouse","i":6,"b":"A"},{"s":"Mouse","i":7,"b":"T"},{"s":"Mouse","i":8,"b":"G"},
{"s":"Mouse","i":9,"b":"T"},{"s":"Mouse","i":10,"b":"A"},{"s":"Mouse","i":11,"b":"A"},{"s":"Mouse","i":12,"b":"T"},{"s":"Mouse","i":13,"b":"G"},{"s":"Mouse","i":14,"b":"-"},{"s":"Mouse","i":15,"b":"-"},{"s":"Mouse","i":16,"b":"-"},{"s":"Mouse","i":17,"b":"C"},{"s":"Mouse","i":18,"b":"T"},{"s":"Mouse","i":19,"b":"A"},{"s":"Mouse","i":20,"b":"A"},{"s":"Mouse","i":21,"b":"G"},{"s":"Mouse","i":22,"b":"C"},{"s":"Mouse","i":23,"b":"T"},{"s":"Mouse","i":24,"b":"T"},{"s":"Mouse","i":25,"b":"C"},{"s":"Mouse","i":26,"b":"A"},{"s":"Mouse","i":27,"b":"T"},{"s":"Mouse","i":28,"b":"T"},{"s":"Mouse","i":29,"b":"A"},{"s":"Mouse","i":30,"b":"A"},{"s":"Mouse","i":31,"b":"T"},{"s":"Mouse","i":32,"b":"A"},{"s":"Mouse","i":33,"b":"A"},
{"s":"Mouse","i":34,"b":"T"},{"s":"Mouse","i":35,"b":"A"},{"s":"Mouse","i":36,"b":"A"},{"s":"Mouse","i":37,"b":"A"},{"s":"Mouse","i":38,"b":"A"},{"s":"Mouse","i":39,"b":"T"},{"s":"Mouse","i":40,"b":"T"},{"s":"Mouse","i":41,"b":"A"},{"s":"Mouse","i":42,"b":"A"},{"s":"Mouse","i":43,"b":"A"},{"s":"Mouse","i":44,"b":"A"},{"s":"Mouse","i":45,"b":"C"},{"s":"Mouse","i":46,"b":"C"},{"s":"Mouse","i":47,"b":"A"},{"s":"Mouse","i":48,"b":"G"},{"s":"Mouse","i":49,"b":"A"},{"s":"Mouse","i":50,"b":"A"},
{"s":"Mouse","i":51,"b":"G"},{"s":"Mouse","i":52,"b":"A"},{"s":"Mouse","i":53,"b":"A"},{"s":"Mouse","i":54,"b":"C"},{"s":"Mouse","i":55,"b":"T"},{"s":"Mouse","i":56,"b":"G"},{"s":"Mouse","i":57,"b":"C"},{"s":"Mouse","i":58,"b":"C"},{"s":"Mouse","i":59,"b":"C"},{"s":"Mouse","i":60,"b":"C"},{"s":"Mouse","i":61,"b":"T"},{"s":"Mouse","i":62,"b":"G"}
]},
"layer":[
{"layer":[
 {"data":{"values":[{"feature":"MAP3K7","start":0,"end":73.47}]},"mark":{"type":"rule","color":"#27246a","strokeWidth":1.6},
  "encoding":{"x":{"field":"start","type":"quantitative","scale":{"domain":[0,73.47],"range":[100,962],"nice":false,"zero":false},"axis":null},"x2":{"field":"end"},"y":{"datum":0,"type":"quantitative","scale":{"domain":[-1,1],"range":[75,59],"nice":false,"zero":false},"axis":null}}},
 {"data":{"values":[{"feature":"3' UTR","start":0,"end":2.98}]},"mark":{"type":"rect","color":"#27246a"},
  "encoding":{"x":{"field":"start","type":"quantitative","scale":{"domain":[0,73.47],"range":[100,962],"nice":false,"zero":false},"axis":null},"x2":{"field":"end"},"y":{"datum":0.62,"type":"quantitative","scale":{"domain":[-1,1],"range":[75,59],"nice":false,"zero":false},"axis":null},"y2":{"datum":-0.62}}},
 {"data":{"name":"exons"},"mark":{"type":"rect","color":"#27246a"},
  "encoding":{"x":{"field":"start","type":"quantitative","scale":{"domain":[0,73.47],"range":[100,962],"nice":false,"zero":false},"axis":null},"x2":{"field":"end"},"y":{"datum":1,"type":"quantitative","scale":{"domain":[-1,1],"range":[75,59],"nice":false,"zero":false},"axis":null},"y2":{"datum":-1}}},
 {"data":{"values":[{"side":"left","kb":20.9,"t":-2.25},{"side":"left","kb":2.39,"t":-6.875},{"side":"right","kb":21.4,"t":-2.25},{"side":"right","kb":85.23,"t":-8.25}]},"mark":{"type":"line","color":"#8a8a8a","strokeDash":[4,3],"strokeWidth":1},
  "encoding":{"x":{"field":"kb","type":"quantitative","scale":{"domain":[0,73.47],"range":[100,962],"nice":false,"zero":false},"axis":null},"y":{"field":"t","type":"quantitative","scale":{"domain":[-1,1],"range":[75,59],"nice":false,"zero":false},"axis":null},"detail":{"field":"side"}}},
 {"data":{"values":[{"region":"130 bp deletion","start":20.78,"end":21.16}]},"mark":{"type":"rect","color":"#e3312b"},
  "encoding":{"x":{"field":"start","type":"quantitative","scale":{"domain":[0,73.47],"range":[100,962],"nice":false,"zero":false},"axis":null},"x2":{"field":"end"},"y":{"datum":1.25,"type":"quantitative","scale":{"domain":[-1,1],"range":[75,59],"nice":false,"zero":false},"axis":null},"y2":{"datum":-2.2}}},
 {"data":{"values":[{}]},"mark":{"type":"text","text":"A","fontWeight":"bold","fontSize":22,"align":"left","baseline":"alphabetic","color":"#111"},
  "encoding":{"x":{"datum":-7.5,"type":"quantitative","scale":{"domain":[0,73.47],"range":[100,962],"nice":false,"zero":false},"axis":null},"y":{"datum":4.625,"type":"quantitative","scale":{"domain":[-1,1],"range":[75,59],"nice":false,"zero":false},"axis":null}}},
 {"data":{"values":[{}]},"mark":{"type":"text","text":"MAP3K7","fontWeight":"bold","fontStyle":"italic","fontSize":20,"align":"left","baseline":"alphabetic","color":"#111"},
  "encoding":{"x":{"datum":-0.6,"type":"quantitative","scale":{"domain":[0,73.47],"range":[100,962],"nice":false,"zero":false},"axis":null},"y":{"datum":3.25,"type":"quantitative","scale":{"domain":[-1,1],"range":[75,59],"nice":false,"zero":false},"axis":null}}},
 {"data":{"values":[{}]},"mark":{"type":"text","text":"(GRCh38_Chr6:90,513,573-90,587,045)","fontSize":15.5,"align":"left","baseline":"alphabetic","color":"#111"},
  "encoding":{"x":{"datum":7.25,"type":"quantitative","scale":{"domain":[0,73.47],"range":[100,962],"nice":false,"zero":false},"axis":null},"y":{"datum":3.25,"type":"quantitative","scale":{"domain":[-1,1],"range":[75,59],"nice":false,"zero":false},"axis":null}}}
]},
{"layer":[
 {"data":{"name":"h3k"},"mark":{"type":"bar","binSpacing":0,"opacity":0.92},
  "encoding":{"x":{"field":"start","type":"quantitative","bin":"binned","scale":{"domain":[0,24300],"range":[128,1100],"nice":false,"zero":false},"axis":null},"x2":{"field":"end"},
   "y":{"field":"v","type":"quantitative","stack":"zero","scale":{"domain":[0,15],"range":[157,131],"nice":false,"zero":false},"axis":{"values":[0,15],"orient":"left","offset":-126,"title":null,"domain":false,"grid":false,"tickSize":7,"tickWidth":1.6,"tickColor":"#222","labelFontSize":9,"labelPadding":3,"labelColor":"#222","labelFont":"Liberation Sans"}},
   "color":{"field":"c","type":"nominal","scale":{"domain":["L01","L02","L03","L04","L05","L06","L07","L08","L09","L10","L11"],"range":["#221e4e","#4a47a3","#6d4f9f","#6f6a72","#e4688c","#9b9a5a","#7cc5e8","#6ccaa6","#4caf4f","#f3c468","#e9914c"]},"legend":null},
   "order":{"field":"c","sort":"ascending"}}},
 {"data":{"values":[{"track":"DNase","start":3975,"end":6525}]},"mark":{"type":"rect","color":"#cfcfcf"},
  "encoding":{"x":{"field":"start","type":"quantitative","scale":{"domain":[0,24300],"range":[128,1100],"nice":false,"zero":false},"axis":null},"x2":{"field":"end"},"y":{"datum":-8.65,"type":"quantitative","scale":{"domain":[0,15],"range":[157,131],"nice":false,"zero":false}},"y2":{"datum":-14.42}}},
 {"data":{"values":[{"track":"DNase","start":18775,"end":21075}]},"mark":{"type":"rect","color":"#a3a3a3"},
  "encoding":{"x":{"field":"start","type":"quantitative","scale":{"domain":[0,24300],"range":[128,1100],"nice":false,"zero":false},"axis":null},"x2":{"field":"end"},"y":{"datum":-11.54,"type":"quantitative","scale":{"domain":[0,15],"range":[157,131],"nice":false,"zero":false}},"y2":{"datum":-17.88}}},
 {"data":{"values":[{"region":"130 bp","start":12047,"end":12177}]},"mark":{"type":"rect","color":"#e3312b"},
  "encoding":{"x":{"field":"start","type":"quantitative","scale":{"domain":[0,24300],"range":[128,1100],"nice":false,"zero":false},"axis":null},"x2":{"field":"end"},"y":{"datum":19.04,"type":"quantitative","scale":{"domain":[0,15],"range":[157,131],"nice":false,"zero":false}},"y2":{"datum":-15.58}}},
 {"data":{"values":[{}]},"mark":{"type":"text","text":"H3K27Ac","fontSize":14.5,"align":"left","baseline":"middle","color":"#111"},
  "encoding":{"x":{"datum":-2575,"type":"quantitative","scale":{"domain":[0,24300],"range":[128,1100],"nice":false,"zero":false},"axis":null},"y":{"datum":4.04,"type":"quantitative","scale":{"domain":[0,15],"range":[157,131],"nice":false,"zero":false}}}},
 {"data":{"values":[{}]},"mark":{"type":"text","text":"DNase Signal","fontSize":14.5,"align":"left","baseline":"middle","color":"#111"},
  "encoding":{"x":{"datum":-2575,"type":"quantitative","scale":{"domain":[0,24300],"range":[128,1100],"nice":false,"zero":false},"axis":null},"y":{"datum":-12.1,"type":"quantitative","scale":{"domain":[0,15],"range":[157,131],"nice":false,"zero":false}}}}
]},
{"data":{"name":"aln"},"transform":[{"filter":"datum.i < 34"}],
 "encoding":{"x":{"field":"i","type":"ordinal","scale":{"range":[152,668],"paddingInner":0,"paddingOuter":0},"axis":null},
  "y":{"field":"s","type":"nominal","sort":["Human","Bonobo","Chimpanzee","Gorilla","Orangutan","Gibbon","Green monkey","Crab-eating macaque","Rhesus macaque","Baboon","Marmoset","Mouse"],"scale":{"range":[224,450],"paddingInner":0,"paddingOuter":0},"axis":null}},
 "layer":[
  {"mark":{"type":"rect"},"encoding":{"color":{"field":"b","type":"nominal","scale":{"domain":["A","C","G","T","-"],"range":["#4daf4a","#72c7ea","#8d5ba6","#ee5e5e","#ffffff"]},"legend":null}}},
  {"mark":{"type":"text","fontSize":14,"baseline":"middle","fill":"#000000","opacity":0.8},"encoding":{"text":{"field":"b"}}},
  {"transform":[{"filter":"datum.i == 0"}],"mark":{"type":"text","align":"right","baseline":"middle","dx":-11.6,"fill":"#111111"},
   "encoding":{"text":{"field":"s"},"size":{"condition":{"test":"datum.s === 'Crab-eating macaque'","value":13.5},"value":14.5}}}
 ]},
{"data":{"name":"aln"},"transform":[{"filter":"datum.i >= 34"}],
 "encoding":{"x":{"field":"i","type":"ordinal","scale":{"range":[673,1113],"paddingInner":0,"paddingOuter":0},"axis":null},
  "y":{"field":"s","type":"nominal","sort":["Human","Bonobo","Chimpanzee","Gorilla","Orangutan","Gibbon","Green monkey","Crab-eating macaque","Rhesus macaque","Baboon","Marmoset","Mouse"],"scale":{"range":[224,450],"paddingInner":0,"paddingOuter":0},"axis":null}},
 "layer":[
  {"mark":{"type":"rect"},"encoding":{"color":{"field":"b","type":"nominal","scale":{"domain":["A","C","G","T","-"],"range":["#4daf4a","#72c7ea","#8d5ba6","#ee5e5e","#ffffff"]},"legend":null}}},
  {"mark":{"type":"text","fontSize":14,"baseline":"middle","fill":"#000000","opacity":0.8},"encoding":{"text":{"field":"b"}}}
 ]},
{"layer":[
 {"data":{"values":[{"from":0,"to":54.8},{"from":79.1,"to":130}]},"mark":{"type":"rule","color":"#8a8a8a","strokeWidth":1.2},
  "encoding":{"x":{"field":"from","type":"quantitative","scale":{"domain":[0,130],"range":[290,931],"nice":false,"zero":false},"axis":null},"x2":{"field":"to"},"y":{"datum":0.5,"type":"quantitative","scale":{"domain":[0,1],"range":[217,203],"nice":false,"zero":false},"axis":null}}},
 {"data":{"values":[{"at":0},{"at":130}]},"mark":{"type":"rule","color":"#8a8a8a","strokeWidth":1.2},
  "encoding":{"x":{"field":"at","type":"quantitative","scale":{"domain":[0,130],"range":[290,931],"nice":false,"zero":false},"axis":null},"y":{"datum":0,"type":"quantitative","scale":{"domain":[0,1],"range":[217,203],"nice":false,"zero":false},"axis":null},"y2":{"datum":1}}},
 {"data":{"values":[{}]},"mark":{"type":"text","text":"130 bp","fontSize":29,"align":"center","baseline":"middle","color":"#e3312b"},
  "encoding":{"x":{"datum":66.9,"type":"quantitative","scale":{"domain":[0,130],"range":[290,931],"nice":false,"zero":false},"axis":null},"y":{"datum":0.5,"type":"quantitative","scale":{"domain":[0,1],"range":[217,203],"nice":false,"zero":false},"axis":null}}}
]}
],
"resolve":{"scale":{"x":"independent","y":"independent","color":"independent","size":"independent"},"axis":{"x":"independent","y":"independent"}}
}
